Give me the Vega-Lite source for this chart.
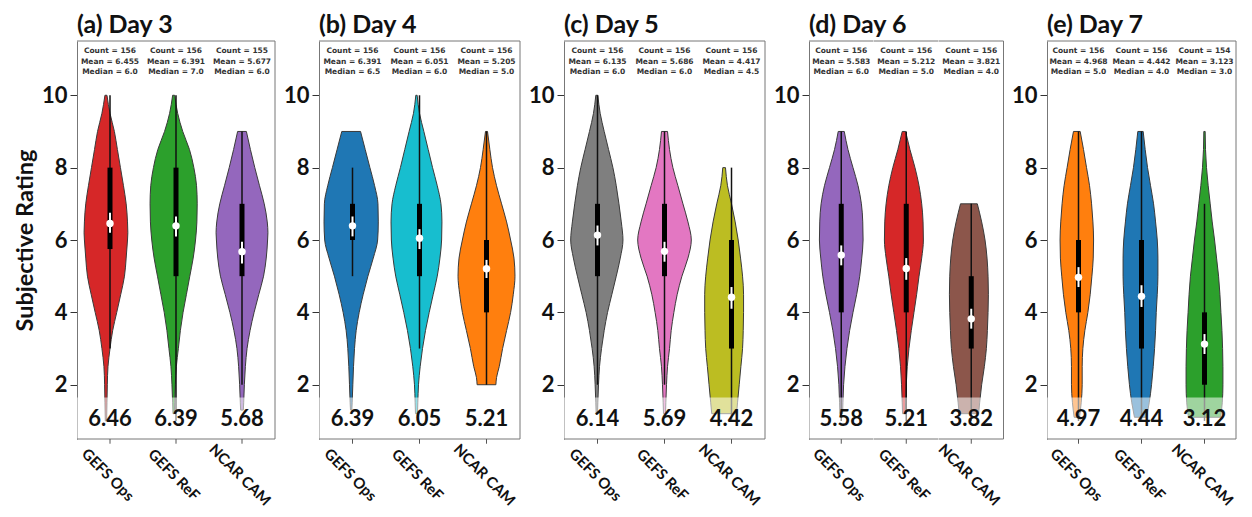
{
"$schema": "https://vega.github.io/schema/vega-lite/v6.json",
"background": "white",
"padding": {"left": 13, "top": 12, "right": 5, "bottom": 5},
"config": {
  "view": {"stroke": null},
  "font": "Lato",
  "title": {"font": "Lato", "fontSize": 25, "fontWeight": "bold", "anchor": "start", "frame": "group", "offset": 3, "color": "#111"},
  "axisY": {"labelFont": "Lato", "labelFontSize": 22, "labelFontWeight": "bold", "labelColor": "#111", "tickSize": 7, "tickColor": "#333", "domainColor": "#777", "labelPadding": 3, "grid": false, "titleFont": "Lato", "titleFontSize": 23.5, "titleFontWeight": "bold", "titleColor": "#111", "titlePadding": 4}
},
"datasets": {
"d3": [
{"t":"d","m":"GEFS Ops","r":1,"w":0.02},{"t":"d","m":"GEFS Ops","r":1.5,"w":0.03},{"t":"d","m":"GEFS Ops","r":2,"w":0.04},{"t":"d","m":"GEFS Ops","r":2.5,"w":0.06},{"t":"d","m":"GEFS Ops","r":3,"w":0.12},{"t":"d","m":"GEFS Ops","r":3.5,"w":0.2},{"t":"d","m":"GEFS Ops","r":4,"w":0.32},{"t":"d","m":"GEFS Ops","r":4.5,"w":0.44},{"t":"d","m":"GEFS Ops","r":5,"w":0.55},{"t":"d","m":"GEFS Ops","r":5.5,"w":0.6},{"t":"d","m":"GEFS Ops","r":6,"w":0.64},{"t":"d","m":"GEFS Ops","r":6.2,"w":0.65},{"t":"d","m":"GEFS Ops","r":6.5,"w":0.64},{"t":"d","m":"GEFS Ops","r":7,"w":0.6},{"t":"d","m":"GEFS Ops","r":7.5,"w":0.52},{"t":"d","m":"GEFS Ops","r":8,"w":0.43},{"t":"d","m":"GEFS Ops","r":8.5,"w":0.34},{"t":"d","m":"GEFS Ops","r":9,"w":0.25},{"t":"d","m":"GEFS Ops","r":9.5,"w":0.12},{"t":"d","m":"GEFS Ops","r":10,"w":0.03},
{"t":"d","m":"GEFS ReF","r":1.2,"w":0.02},{"t":"d","m":"GEFS ReF","r":1.5,"w":0.03},{"t":"d","m":"GEFS ReF","r":2,"w":0.05},{"t":"d","m":"GEFS ReF","r":2.5,"w":0.08},{"t":"d","m":"GEFS ReF","r":3,"w":0.14},{"t":"d","m":"GEFS ReF","r":3.5,"w":0.2},{"t":"d","m":"GEFS ReF","r":4,"w":0.28},{"t":"d","m":"GEFS ReF","r":4.5,"w":0.38},{"t":"d","m":"GEFS ReF","r":5,"w":0.48},{"t":"d","m":"GEFS ReF","r":5.5,"w":0.58},{"t":"d","m":"GEFS ReF","r":6,"w":0.65},{"t":"d","m":"GEFS ReF","r":6.5,"w":0.69},{"t":"d","m":"GEFS ReF","r":7,"w":0.7},{"t":"d","m":"GEFS ReF","r":7.5,"w":0.68},{"t":"d","m":"GEFS ReF","r":8,"w":0.6},{"t":"d","m":"GEFS ReF","r":8.5,"w":0.47},{"t":"d","m":"GEFS ReF","r":9,"w":0.27},{"t":"d","m":"GEFS ReF","r":9.5,"w":0.12},{"t":"d","m":"GEFS ReF","r":10,"w":0.03},
{"t":"d","m":"NCAR CAM","r":1.3,"w":0.04},{"t":"d","m":"NCAR CAM","r":1.5,"w":0.05},{"t":"d","m":"NCAR CAM","r":2,"w":0.07},{"t":"d","m":"NCAR CAM","r":2.5,"w":0.1},{"t":"d","m":"NCAR CAM","r":3,"w":0.15},{"t":"d","m":"NCAR CAM","r":3.5,"w":0.24},{"t":"d","m":"NCAR CAM","r":4,"w":0.36},{"t":"d","m":"NCAR CAM","r":4.5,"w":0.5},{"t":"d","m":"NCAR CAM","r":5,"w":0.64},{"t":"d","m":"NCAR CAM","r":5.5,"w":0.72},{"t":"d","m":"NCAR CAM","r":6,"w":0.76},{"t":"d","m":"NCAR CAM","r":6.2,"w":0.77},{"t":"d","m":"NCAR CAM","r":6.5,"w":0.75},{"t":"d","m":"NCAR CAM","r":7,"w":0.66},{"t":"d","m":"NCAR CAM","r":7.5,"w":0.52},{"t":"d","m":"NCAR CAM","r":8,"w":0.38},{"t":"d","m":"NCAR CAM","r":8.5,"w":0.25},{"t":"d","m":"NCAR CAM","r":9,"w":0.13},
{"t":"s","m":"GEFS Ops","count":156,"mean":6.455,"avg":6.46,"wlo":3,"whi":10,"q1":5.75,"q3":8,"cilo":6.2,"cihi":6.75,"info":["Count = 156","Mean = 6.455","Median = 6.0"]},
{"t":"s","m":"GEFS ReF","count":156,"mean":6.391,"avg":6.39,"wlo":1,"whi":10,"q1":5,"q3":8,"cilo":6.1,"cihi":6.65,"info":["Count = 156","Mean = 6.391","Median = 7.0"]},
{"t":"s","m":"NCAR CAM","count":155,"mean":5.677,"avg":5.68,"wlo":2,"whi":9,"q1":5,"q3":7,"cilo":5.35,"cihi":5.95,"info":["Count = 155","Mean = 5.677","Median = 6.0"]}
],
"d4": [
{"t":"d","m":"GEFS Ops","r":1.3,"w":0.02},{"t":"d","m":"GEFS Ops","r":1.5,"w":0.03},{"t":"d","m":"GEFS Ops","r":2,"w":0.05},{"t":"d","m":"GEFS Ops","r":2.5,"w":0.07},{"t":"d","m":"GEFS Ops","r":3,"w":0.1},{"t":"d","m":"GEFS Ops","r":3.5,"w":0.15},{"t":"d","m":"GEFS Ops","r":4,"w":0.24},{"t":"d","m":"GEFS Ops","r":4.5,"w":0.36},{"t":"d","m":"GEFS Ops","r":5,"w":0.5},{"t":"d","m":"GEFS Ops","r":5.5,"w":0.66},{"t":"d","m":"GEFS Ops","r":6,"w":0.79},{"t":"d","m":"GEFS Ops","r":6.5,"w":0.81},{"t":"d","m":"GEFS Ops","r":7,"w":0.8},{"t":"d","m":"GEFS Ops","r":7.5,"w":0.7},{"t":"d","m":"GEFS Ops","r":8,"w":0.56},{"t":"d","m":"GEFS Ops","r":8.5,"w":0.42},{"t":"d","m":"GEFS Ops","r":9,"w":0.28},
{"t":"d","m":"GEFS ReF","r":1.2,"w":0.03},{"t":"d","m":"GEFS ReF","r":1.5,"w":0.04},{"t":"d","m":"GEFS ReF","r":2,"w":0.06},{"t":"d","m":"GEFS ReF","r":2.5,"w":0.11},{"t":"d","m":"GEFS ReF","r":3,"w":0.18},{"t":"d","m":"GEFS ReF","r":3.5,"w":0.27},{"t":"d","m":"GEFS ReF","r":4,"w":0.38},{"t":"d","m":"GEFS ReF","r":4.5,"w":0.5},{"t":"d","m":"GEFS ReF","r":5,"w":0.62},{"t":"d","m":"GEFS ReF","r":5.5,"w":0.7},{"t":"d","m":"GEFS ReF","r":6,"w":0.75},{"t":"d","m":"GEFS ReF","r":6.5,"w":0.76},{"t":"d","m":"GEFS ReF","r":7,"w":0.73},{"t":"d","m":"GEFS ReF","r":7.5,"w":0.62},{"t":"d","m":"GEFS ReF","r":8,"w":0.48},{"t":"d","m":"GEFS ReF","r":8.5,"w":0.35},{"t":"d","m":"GEFS ReF","r":9,"w":0.22},{"t":"d","m":"GEFS ReF","r":9.5,"w":0.09},{"t":"d","m":"GEFS ReF","r":10,"w":0.02},
{"t":"d","m":"NCAR CAM","r":2,"w":0.28},{"t":"d","m":"NCAR CAM","r":2.2,"w":0.3},{"t":"d","m":"NCAR CAM","r":2.5,"w":0.38},{"t":"d","m":"NCAR CAM","r":3,"w":0.48},{"t":"d","m":"NCAR CAM","r":3.5,"w":0.6},{"t":"d","m":"NCAR CAM","r":4,"w":0.72},{"t":"d","m":"NCAR CAM","r":4.5,"w":0.8},{"t":"d","m":"NCAR CAM","r":5,"w":0.85},{"t":"d","m":"NCAR CAM","r":5.5,"w":0.82},{"t":"d","m":"NCAR CAM","r":6,"w":0.72},{"t":"d","m":"NCAR CAM","r":6.5,"w":0.6},{"t":"d","m":"NCAR CAM","r":7,"w":0.45},{"t":"d","m":"NCAR CAM","r":7.5,"w":0.3},{"t":"d","m":"NCAR CAM","r":8,"w":0.18},{"t":"d","m":"NCAR CAM","r":8.5,"w":0.1},{"t":"d","m":"NCAR CAM","r":9,"w":0.03},
{"t":"s","m":"GEFS Ops","count":156,"mean":6.391,"avg":6.39,"wlo":5,"whi":8,"q1":6,"q3":7,"cilo":6.1,"cihi":6.65,"info":["Count = 156","Mean = 6.391","Median = 6.5"]},
{"t":"s","m":"GEFS ReF","count":156,"mean":6.051,"avg":6.05,"wlo":3,"whi":10,"q1":5,"q3":7,"cilo":5.75,"cihi":6.3,"info":["Count = 156","Mean = 6.051","Median = 6.0"]},
{"t":"s","m":"NCAR CAM","count":156,"mean":5.205,"avg":5.21,"wlo":2,"whi":9,"q1":4,"q3":6,"cilo":4.95,"cihi":5.45,"info":["Count = 156","Mean = 5.205","Median = 5.0"]}
],
"d5": [
{"t":"d","m":"GEFS Ops","r":1.2,"w":0.02},{"t":"d","m":"GEFS Ops","r":1.5,"w":0.03},{"t":"d","m":"GEFS Ops","r":2,"w":0.05},{"t":"d","m":"GEFS Ops","r":2.5,"w":0.08},{"t":"d","m":"GEFS Ops","r":3,"w":0.14},{"t":"d","m":"GEFS Ops","r":3.5,"w":0.22},{"t":"d","m":"GEFS Ops","r":4,"w":0.32},{"t":"d","m":"GEFS Ops","r":4.5,"w":0.45},{"t":"d","m":"GEFS Ops","r":5,"w":0.58},{"t":"d","m":"GEFS Ops","r":5.5,"w":0.7},{"t":"d","m":"GEFS Ops","r":6,"w":0.78},{"t":"d","m":"GEFS Ops","r":6.5,"w":0.73},{"t":"d","m":"GEFS Ops","r":7,"w":0.66},{"t":"d","m":"GEFS Ops","r":7.5,"w":0.58},{"t":"d","m":"GEFS Ops","r":8,"w":0.48},{"t":"d","m":"GEFS Ops","r":8.5,"w":0.35},{"t":"d","m":"GEFS Ops","r":9,"w":0.22},{"t":"d","m":"GEFS Ops","r":9.5,"w":0.1},{"t":"d","m":"GEFS Ops","r":10,"w":0.03},
{"t":"d","m":"GEFS ReF","r":1.2,"w":0.03},{"t":"d","m":"GEFS ReF","r":1.5,"w":0.04},{"t":"d","m":"GEFS ReF","r":2,"w":0.06},{"t":"d","m":"GEFS ReF","r":2.5,"w":0.09},{"t":"d","m":"GEFS ReF","r":3,"w":0.15},{"t":"d","m":"GEFS ReF","r":3.5,"w":0.2},{"t":"d","m":"GEFS ReF","r":4,"w":0.28},{"t":"d","m":"GEFS ReF","r":4.5,"w":0.38},{"t":"d","m":"GEFS ReF","r":5,"w":0.52},{"t":"d","m":"GEFS ReF","r":5.5,"w":0.7},{"t":"d","m":"GEFS ReF","r":6,"w":0.8},{"t":"d","m":"GEFS ReF","r":6.5,"w":0.7},{"t":"d","m":"GEFS ReF","r":7,"w":0.55},{"t":"d","m":"GEFS ReF","r":7.5,"w":0.4},{"t":"d","m":"GEFS ReF","r":8,"w":0.25},{"t":"d","m":"GEFS ReF","r":8.5,"w":0.15},{"t":"d","m":"GEFS ReF","r":9,"w":0.09},
{"t":"d","m":"NCAR CAM","r":1.2,"w":0.37},{"t":"d","m":"NCAR CAM","r":1.5,"w":0.4},{"t":"d","m":"NCAR CAM","r":2,"w":0.45},{"t":"d","m":"NCAR CAM","r":2.5,"w":0.5},{"t":"d","m":"NCAR CAM","r":3,"w":0.55},{"t":"d","m":"NCAR CAM","r":3.5,"w":0.57},{"t":"d","m":"NCAR CAM","r":4,"w":0.58},{"t":"d","m":"NCAR CAM","r":4.5,"w":0.58},{"t":"d","m":"NCAR CAM","r":5,"w":0.55},{"t":"d","m":"NCAR CAM","r":5.5,"w":0.49},{"t":"d","m":"NCAR CAM","r":6,"w":0.42},{"t":"d","m":"NCAR CAM","r":6.5,"w":0.33},{"t":"d","m":"NCAR CAM","r":7,"w":0.22},{"t":"d","m":"NCAR CAM","r":7.5,"w":0.1},{"t":"d","m":"NCAR CAM","r":8,"w":0.04},
{"t":"s","m":"GEFS Ops","count":156,"mean":6.135,"avg":6.14,"wlo":2,"whi":10,"q1":5,"q3":7,"cilo":5.85,"cihi":6.4,"info":["Count = 156","Mean = 6.135","Median = 6.0"]},
{"t":"s","m":"GEFS ReF","count":156,"mean":5.686,"avg":5.69,"wlo":2,"whi":9,"q1":5,"q3":7,"cilo":5.4,"cihi":5.95,"info":["Count = 156","Mean = 5.686","Median = 6.0"]},
{"t":"s","m":"NCAR CAM","count":156,"mean":4.417,"avg":4.42,"wlo":1,"whi":8,"q1":3,"q3":6,"cilo":4.1,"cihi":4.7,"info":["Count = 156","Mean = 4.417","Median = 4.5"]}
],
"d6": [
{"t":"d","m":"GEFS Ops","r":1.2,"w":0.04},{"t":"d","m":"GEFS Ops","r":1.5,"w":0.05},{"t":"d","m":"GEFS Ops","r":2,"w":0.07},{"t":"d","m":"GEFS Ops","r":2.5,"w":0.11},{"t":"d","m":"GEFS Ops","r":3,"w":0.17},{"t":"d","m":"GEFS Ops","r":3.5,"w":0.25},{"t":"d","m":"GEFS Ops","r":4,"w":0.35},{"t":"d","m":"GEFS Ops","r":4.5,"w":0.46},{"t":"d","m":"GEFS Ops","r":5,"w":0.55},{"t":"d","m":"GEFS Ops","r":5.5,"w":0.61},{"t":"d","m":"GEFS Ops","r":6,"w":0.65},{"t":"d","m":"GEFS Ops","r":6.5,"w":0.64},{"t":"d","m":"GEFS Ops","r":7,"w":0.6},{"t":"d","m":"GEFS Ops","r":7.5,"w":0.5},{"t":"d","m":"GEFS Ops","r":8,"w":0.35},{"t":"d","m":"GEFS Ops","r":8.5,"w":0.2},{"t":"d","m":"GEFS Ops","r":9,"w":0.09},
{"t":"d","m":"GEFS ReF","r":1.2,"w":0.04},{"t":"d","m":"GEFS ReF","r":1.5,"w":0.05},{"t":"d","m":"GEFS ReF","r":2,"w":0.07},{"t":"d","m":"GEFS ReF","r":2.5,"w":0.1},{"t":"d","m":"GEFS ReF","r":3,"w":0.15},{"t":"d","m":"GEFS ReF","r":3.5,"w":0.22},{"t":"d","m":"GEFS ReF","r":4,"w":0.3},{"t":"d","m":"GEFS ReF","r":4.5,"w":0.38},{"t":"d","m":"GEFS ReF","r":5,"w":0.45},{"t":"d","m":"GEFS ReF","r":5.5,"w":0.53},{"t":"d","m":"GEFS ReF","r":6,"w":0.58},{"t":"d","m":"GEFS ReF","r":6.5,"w":0.57},{"t":"d","m":"GEFS ReF","r":7,"w":0.53},{"t":"d","m":"GEFS ReF","r":7.5,"w":0.45},{"t":"d","m":"GEFS ReF","r":8,"w":0.33},{"t":"d","m":"GEFS ReF","r":8.5,"w":0.18},{"t":"d","m":"GEFS ReF","r":9,"w":0.05},
{"t":"d","m":"NCAR CAM","r":1.2,"w":0.29},{"t":"d","m":"NCAR CAM","r":1.5,"w":0.32},{"t":"d","m":"NCAR CAM","r":2,"w":0.38},{"t":"d","m":"NCAR CAM","r":2.5,"w":0.46},{"t":"d","m":"NCAR CAM","r":3,"w":0.52},{"t":"d","m":"NCAR CAM","r":3.5,"w":0.55},{"t":"d","m":"NCAR CAM","r":4,"w":0.57},{"t":"d","m":"NCAR CAM","r":4.5,"w":0.58},{"t":"d","m":"NCAR CAM","r":5,"w":0.57},{"t":"d","m":"NCAR CAM","r":5.5,"w":0.54},{"t":"d","m":"NCAR CAM","r":6,"w":0.48},{"t":"d","m":"NCAR CAM","r":6.5,"w":0.38},{"t":"d","m":"NCAR CAM","r":7,"w":0.25},
{"t":"s","m":"GEFS Ops","count":156,"mean":5.583,"avg":5.58,"wlo":1,"whi":9,"q1":4,"q3":7,"cilo":5.3,"cihi":5.85,"info":["Count = 156","Mean = 5.583","Median = 6.0"]},
{"t":"s","m":"GEFS ReF","count":156,"mean":5.212,"avg":5.21,"wlo":1,"whi":9,"q1":4,"q3":7,"cilo":4.9,"cihi":5.5,"info":["Count = 156","Mean = 5.212","Median = 5.0"]},
{"t":"s","m":"NCAR CAM","count":156,"mean":3.821,"avg":3.82,"wlo":1,"whi":7,"q1":3,"q3":5,"cilo":3.55,"cihi":4.1,"info":["Count = 156","Mean = 3.821","Median = 4.0"]}
],
"d7": [
{"t":"d","m":"GEFS Ops","r":1.1,"w":0.08},{"t":"d","m":"GEFS Ops","r":1.5,"w":0.13},{"t":"d","m":"GEFS Ops","r":2,"w":0.16},{"t":"d","m":"GEFS Ops","r":2.5,"w":0.16},{"t":"d","m":"GEFS Ops","r":3,"w":0.18},{"t":"d","m":"GEFS Ops","r":3.5,"w":0.24},{"t":"d","m":"GEFS Ops","r":4,"w":0.33},{"t":"d","m":"GEFS Ops","r":4.5,"w":0.4},{"t":"d","m":"GEFS Ops","r":5,"w":0.45},{"t":"d","m":"GEFS Ops","r":5.5,"w":0.49},{"t":"d","m":"GEFS Ops","r":6,"w":0.5},{"t":"d","m":"GEFS Ops","r":6.5,"w":0.48},{"t":"d","m":"GEFS Ops","r":7,"w":0.44},{"t":"d","m":"GEFS Ops","r":7.5,"w":0.38},{"t":"d","m":"GEFS Ops","r":8,"w":0.29},{"t":"d","m":"GEFS Ops","r":8.5,"w":0.2},{"t":"d","m":"GEFS Ops","r":9,"w":0.1},
{"t":"d","m":"GEFS ReF","r":1.1,"w":0.18},{"t":"d","m":"GEFS ReF","r":1.5,"w":0.26},{"t":"d","m":"GEFS ReF","r":2,"w":0.33},{"t":"d","m":"GEFS ReF","r":2.5,"w":0.38},{"t":"d","m":"GEFS ReF","r":3,"w":0.42},{"t":"d","m":"GEFS ReF","r":3.5,"w":0.45},{"t":"d","m":"GEFS ReF","r":4,"w":0.47},{"t":"d","m":"GEFS ReF","r":4.5,"w":0.5},{"t":"d","m":"GEFS ReF","r":5,"w":0.52},{"t":"d","m":"GEFS ReF","r":5.5,"w":0.52},{"t":"d","m":"GEFS ReF","r":6,"w":0.5},{"t":"d","m":"GEFS ReF","r":6.5,"w":0.45},{"t":"d","m":"GEFS ReF","r":7,"w":0.39},{"t":"d","m":"GEFS ReF","r":7.5,"w":0.3},{"t":"d","m":"GEFS ReF","r":8,"w":0.21},{"t":"d","m":"GEFS ReF","r":8.5,"w":0.14},{"t":"d","m":"GEFS ReF","r":9,"w":0.08},
{"t":"d","m":"NCAR CAM","r":1.1,"w":0.48},{"t":"d","m":"NCAR CAM","r":1.5,"w":0.53},{"t":"d","m":"NCAR CAM","r":2,"w":0.55},{"t":"d","m":"NCAR CAM","r":2.5,"w":0.55},{"t":"d","m":"NCAR CAM","r":3,"w":0.54},{"t":"d","m":"NCAR CAM","r":3.5,"w":0.52},{"t":"d","m":"NCAR CAM","r":4,"w":0.49},{"t":"d","m":"NCAR CAM","r":4.5,"w":0.46},{"t":"d","m":"NCAR CAM","r":5,"w":0.42},{"t":"d","m":"NCAR CAM","r":5.5,"w":0.36},{"t":"d","m":"NCAR CAM","r":6,"w":0.3},{"t":"d","m":"NCAR CAM","r":6.5,"w":0.23},{"t":"d","m":"NCAR CAM","r":7,"w":0.17},{"t":"d","m":"NCAR CAM","r":7.5,"w":0.11},{"t":"d","m":"NCAR CAM","r":8,"w":0.06},{"t":"d","m":"NCAR CAM","r":8.5,"w":0.03},{"t":"d","m":"NCAR CAM","r":9,"w":0.02},
{"t":"s","m":"GEFS Ops","count":156,"mean":4.968,"avg":4.97,"wlo":1,"whi":9,"q1":4,"q3":6,"cilo":4.7,"cihi":5.25,"info":["Count = 156","Mean = 4.968","Median = 5.0"]},
{"t":"s","m":"GEFS ReF","count":156,"mean":4.442,"avg":4.44,"wlo":1,"whi":9,"q1":3,"q3":6,"cilo":4.15,"cihi":4.75,"info":["Count = 156","Mean = 4.442","Median = 4.0"]},
{"t":"s","m":"NCAR CAM","count":154,"mean":3.123,"avg":3.12,"wlo":1,"whi":7,"q1":2,"q3":4,"cilo":2.85,"cihi":3.4,"info":["Count = 154","Mean = 3.123","Median = 3.0"]}
]
},
"resolve": {"scale": {"color": "independent", "x": "independent", "y": "independent"}},
"spacing": 7,
"hconcat": [
{
 "data": {"name": "d3"}, "title": "(a) Day 3", "spacing": 0, "bounds": "flush",
 "facet": {"column": {"field": "m", "type": "nominal", "sort": ["GEFS Ops","GEFS ReF","NCAR CAM"], "header": {"labels": false, "title": null, "labelPadding": 0, "titlePadding": 0}}},
 "spec": {"width": 66, "height": 398, "layer": [
  {"transform": [{"filter": "datum.t == 'd'"}], "mark": {"type": "area", "orient": "horizontal", "interpolate": "monotone", "stroke": "#3a3a3a", "strokeWidth": 1},
   "encoding": {"y": {"field": "r", "type": "quantitative", "scale": {"domain": [0.5, 11.5], "nice": false, "zero": false}, "axis": {"values": [2,4,6,8,10], "title": "Subjective Rating"}},
    "x": {"field": "w", "type": "quantitative", "stack": "center", "impute": null, "scale": {"domain": [-0.105, 0.875], "nice": false, "zero": false}, "axis": null},
    "color": {"field": "m", "type": "nominal", "legend": null, "scale": {"domain": ["GEFS Ops","GEFS ReF","NCAR CAM"], "range": ["#d62728","#2ca02c","#9467bd"]}}}},
  {"transform": [{"filter": "datum.t == 's'"}], "mark": {"type": "rule", "color": "#111", "strokeWidth": 1.5}, "encoding": {"x": {"datum": 0.385}, "y": {"field": "wlo", "type": "quantitative"}, "y2": {"field": "whi"}}},
  {"transform": [{"filter": "datum.t == 's'"}], "mark": {"type": "rule", "color": "#000", "strokeWidth": 5}, "encoding": {"x": {"datum": 0.385}, "y": {"field": "q1", "type": "quantitative"}, "y2": {"field": "q3"}}},
  {"transform": [{"filter": "datum.t == 's'"}], "mark": {"type": "rule", "color": "white", "strokeWidth": 2}, "encoding": {"x": {"datum": 0.385}, "y": {"field": "cilo", "type": "quantitative"}, "y2": {"field": "cihi"}}},
  {"transform": [{"filter": "datum.t == 's'"}], "mark": {"type": "point", "filled": true, "color": "white", "size": 55, "opacity": 1}, "encoding": {"x": {"datum": 0.385}, "y": {"field": "mean", "type": "quantitative"}}},
  {"transform": [{"filter": "datum.t == 's'"}], "mark": {"type": "rect", "color": "white", "opacity": 0.55}, "encoding": {"x": {"datum": -0.105}, "x2": {"datum": 0.875}, "y": {"datum": 0.5}, "y2": {"datum": 1.65}}},
  {"transform": [{"filter": "datum.t == 's'"}], "mark": {"type": "text", "font": "Lato", "fontSize": 22, "fontWeight": "bold", "color": "#111", "baseline": "middle"}, "encoding": {"x": {"datum": 0.385}, "y": {"datum": 1.06}, "text": {"field": "avg", "type": "quantitative", "format": ".2f"}}},
  {"transform": [{"filter": "datum.t == 's'"}], "mark": {"type": "text", "font": "DejaVu Sans", "fontSize": 7.5, "fontWeight": "bold", "color": "#333", "baseline": "top", "lineHeight": 10.5}, "encoding": {"x": {"datum": 0.385}, "y": {"datum": 11.33}, "text": {"field": "info", "type": "nominal"}}},
  {"transform": [{"filter": "datum.t == 's'"}], "mark": {"type": "rule", "color": "#777", "strokeWidth": 1}, "encoding": {"y": {"datum": 11.5}}},
  {"transform": [{"filter": "datum.t == 's'"}], "mark": {"type": "rule", "color": "#777", "strokeWidth": 1}, "encoding": {"y": {"datum": 0.5}}},
  {"transform": [{"filter": "datum.t == 's'"}], "mark": {"type": "rule", "color": "#555", "strokeWidth": 1}, "encoding": {"x": {"datum": 0.385}, "y": {"datum": 0.5}, "y2": {"datum": 0.37}}},
  {"transform": [{"filter": "datum.t == 's' && datum.m == 'NCAR CAM'"}], "mark": {"type": "rule", "color": "#777", "strokeWidth": 1}, "encoding": {"x": {"datum": 0.875}}},
  {"transform": [{"filter": "datum.t == 's'"}], "mark": {"type": "text", "font": "Lato", "fontSize": 15, "fontWeight": "bold", "color": "#111", "angle": 45, "align": "center", "baseline": "middle", "dx": -3}, "encoding": {"x": {"datum": 0.385}, "y": {"datum": -0.55}, "text": {"field": "m", "type": "nominal"}}}
 ]}
},
{
 "data": {"name": "d4"}, "title": "(b) Day 4", "spacing": 0, "bounds": "flush",
 "facet": {"column": {"field": "m", "type": "nominal", "sort": ["GEFS Ops","GEFS ReF","NCAR CAM"], "header": {"labels": false, "title": null, "labelPadding": 0, "titlePadding": 0}}},
 "spec": {"width": 67, "height": 398, "layer": [
  {"transform": [{"filter": "datum.t == 'd'"}], "mark": {"type": "area", "orient": "horizontal", "interpolate": "monotone", "stroke": "#3a3a3a", "strokeWidth": 1},
   "encoding": {"y": {"field": "r", "type": "quantitative", "scale": {"domain": [0.5, 11.5], "nice": false, "zero": false}, "axis": {"values": [2,4,6,8,10], "title": null}},
    "x": {"field": "w", "type": "quantitative", "stack": "center", "impute": null, "scale": {"domain": [-0.075, 0.925], "nice": false, "zero": false}, "axis": null},
    "color": {"field": "m", "type": "nominal", "legend": null, "scale": {"domain": ["GEFS Ops","GEFS ReF","NCAR CAM"], "range": ["#1f77b4","#17becf","#ff7f0e"]}}}},
  {"transform": [{"filter": "datum.t == 's'"}], "mark": {"type": "rule", "color": "#111", "strokeWidth": 1.5}, "encoding": {"x": {"datum": 0.425}, "y": {"field": "wlo", "type": "quantitative"}, "y2": {"field": "whi"}}},
  {"transform": [{"filter": "datum.t == 's'"}], "mark": {"type": "rule", "color": "#000", "strokeWidth": 5}, "encoding": {"x": {"datum": 0.425}, "y": {"field": "q1", "type": "quantitative"}, "y2": {"field": "q3"}}},
  {"transform": [{"filter": "datum.t == 's'"}], "mark": {"type": "rule", "color": "white", "strokeWidth": 2}, "encoding": {"x": {"datum": 0.425}, "y": {"field": "cilo", "type": "quantitative"}, "y2": {"field": "cihi"}}},
  {"transform": [{"filter": "datum.t == 's'"}], "mark": {"type": "point", "filled": true, "color": "white", "size": 55, "opacity": 1}, "encoding": {"x": {"datum": 0.425}, "y": {"field": "mean", "type": "quantitative"}}},
  {"transform": [{"filter": "datum.t == 's'"}], "mark": {"type": "rect", "color": "white", "opacity": 0.55}, "encoding": {"x": {"datum": -0.075}, "x2": {"datum": 0.925}, "y": {"datum": 0.5}, "y2": {"datum": 1.65}}},
  {"transform": [{"filter": "datum.t == 's'"}], "mark": {"type": "text", "font": "Lato", "fontSize": 22, "fontWeight": "bold", "color": "#111", "baseline": "middle"}, "encoding": {"x": {"datum": 0.425}, "y": {"datum": 1.06}, "text": {"field": "avg", "type": "quantitative", "format": ".2f"}}},
  {"transform": [{"filter": "datum.t == 's'"}], "mark": {"type": "text", "font": "DejaVu Sans", "fontSize": 7.5, "fontWeight": "bold", "color": "#333", "baseline": "top", "lineHeight": 10.5}, "encoding": {"x": {"datum": 0.425}, "y": {"datum": 11.33}, "text": {"field": "info", "type": "nominal"}}},
  {"transform": [{"filter": "datum.t == 's'"}], "mark": {"type": "rule", "color": "#777", "strokeWidth": 1}, "encoding": {"y": {"datum": 11.5}}},
  {"transform": [{"filter": "datum.t == 's'"}], "mark": {"type": "rule", "color": "#777", "strokeWidth": 1}, "encoding": {"y": {"datum": 0.5}}},
  {"transform": [{"filter": "datum.t == 's'"}], "mark": {"type": "rule", "color": "#555", "strokeWidth": 1}, "encoding": {"x": {"datum": 0.425}, "y": {"datum": 0.5}, "y2": {"datum": 0.37}}},
  {"transform": [{"filter": "datum.t == 's' && datum.m == 'NCAR CAM'"}], "mark": {"type": "rule", "color": "#777", "strokeWidth": 1}, "encoding": {"x": {"datum": 0.925}}},
  {"transform": [{"filter": "datum.t == 's'"}], "mark": {"type": "text", "font": "Lato", "fontSize": 15, "fontWeight": "bold", "color": "#111", "angle": 45, "align": "center", "baseline": "middle", "dx": -3}, "encoding": {"x": {"datum": 0.425}, "y": {"datum": -0.55}, "text": {"field": "m", "type": "nominal"}}}
 ]}
},
{
 "data": {"name": "d5"}, "title": "(c) Day 5", "spacing": 0, "bounds": "flush",
 "facet": {"column": {"field": "m", "type": "nominal", "sort": ["GEFS Ops","GEFS ReF","NCAR CAM"], "header": {"labels": false, "title": null, "labelPadding": 0, "titlePadding": 0}}},
 "spec": {"width": 67, "height": 398, "layer": [
  {"transform": [{"filter": "datum.t == 'd'"}], "mark": {"type": "area", "orient": "horizontal", "interpolate": "monotone", "stroke": "#3a3a3a", "strokeWidth": 1},
   "encoding": {"y": {"field": "r", "type": "quantitative", "scale": {"domain": [0.5, 11.5], "nice": false, "zero": false}, "axis": {"values": [2,4,6,8,10], "title": null}},
    "x": {"field": "w", "type": "quantitative", "stack": "center", "impute": null, "scale": {"domain": [-0.1, 0.9], "nice": false, "zero": false}, "axis": null},
    "color": {"field": "m", "type": "nominal", "legend": null, "scale": {"domain": ["GEFS Ops","GEFS ReF","NCAR CAM"], "range": ["#7f7f7f","#e377c2","#bcbd22"]}}}},
  {"transform": [{"filter": "datum.t == 's'"}], "mark": {"type": "rule", "color": "#111", "strokeWidth": 1.5}, "encoding": {"x": {"datum": 0.4}, "y": {"field": "wlo", "type": "quantitative"}, "y2": {"field": "whi"}}},
  {"transform": [{"filter": "datum.t == 's'"}], "mark": {"type": "rule", "color": "#000", "strokeWidth": 5}, "encoding": {"x": {"datum": 0.4}, "y": {"field": "q1", "type": "quantitative"}, "y2": {"field": "q3"}}},
  {"transform": [{"filter": "datum.t == 's'"}], "mark": {"type": "rule", "color": "white", "strokeWidth": 2}, "encoding": {"x": {"datum": 0.4}, "y": {"field": "cilo", "type": "quantitative"}, "y2": {"field": "cihi"}}},
  {"transform": [{"filter": "datum.t == 's'"}], "mark": {"type": "point", "filled": true, "color": "white", "size": 55, "opacity": 1}, "encoding": {"x": {"datum": 0.4}, "y": {"field": "mean", "type": "quantitative"}}},
  {"transform": [{"filter": "datum.t == 's'"}], "mark": {"type": "rect", "color": "white", "opacity": 0.55}, "encoding": {"x": {"datum": -0.1}, "x2": {"datum": 0.9}, "y": {"datum": 0.5}, "y2": {"datum": 1.65}}},
  {"transform": [{"filter": "datum.t == 's'"}], "mark": {"type": "text", "font": "Lato", "fontSize": 22, "fontWeight": "bold", "color": "#111", "baseline": "middle"}, "encoding": {"x": {"datum": 0.4}, "y": {"datum": 1.06}, "text": {"field": "avg", "type": "quantitative", "format": ".2f"}}},
  {"transform": [{"filter": "datum.t == 's'"}], "mark": {"type": "text", "font": "DejaVu Sans", "fontSize": 7.5, "fontWeight": "bold", "color": "#333", "baseline": "top", "lineHeight": 10.5}, "encoding": {"x": {"datum": 0.4}, "y": {"datum": 11.33}, "text": {"field": "info", "type": "nominal"}}},
  {"transform": [{"filter": "datum.t == 's'"}], "mark": {"type": "rule", "color": "#777", "strokeWidth": 1}, "encoding": {"y": {"datum": 11.5}}},
  {"transform": [{"filter": "datum.t == 's'"}], "mark": {"type": "rule", "color": "#777", "strokeWidth": 1}, "encoding": {"y": {"datum": 0.5}}},
  {"transform": [{"filter": "datum.t == 's'"}], "mark": {"type": "rule", "color": "#555", "strokeWidth": 1}, "encoding": {"x": {"datum": 0.4}, "y": {"datum": 0.5}, "y2": {"datum": 0.37}}},
  {"transform": [{"filter": "datum.t == 's' && datum.m == 'NCAR CAM'"}], "mark": {"type": "rule", "color": "#777", "strokeWidth": 1}, "encoding": {"x": {"datum": 0.9}}},
  {"transform": [{"filter": "datum.t == 's'"}], "mark": {"type": "text", "font": "Lato", "fontSize": 15, "fontWeight": "bold", "color": "#111", "angle": 45, "align": "center", "baseline": "middle", "dx": -3}, "encoding": {"x": {"datum": 0.4}, "y": {"datum": -0.55}, "text": {"field": "m", "type": "nominal"}}}
 ]}
},
{
 "data": {"name": "d6"}, "title": "(d) Day 6", "spacing": 0, "bounds": "flush",
 "facet": {"column": {"field": "m", "type": "nominal", "sort": ["GEFS Ops","GEFS ReF","NCAR CAM"], "header": {"labels": false, "title": null, "labelPadding": 0, "titlePadding": 0}}},
 "spec": {"width": 64.5, "height": 398, "layer": [
  {"transform": [{"filter": "datum.t == 'd'"}], "mark": {"type": "area", "orient": "horizontal", "interpolate": "monotone", "stroke": "#3a3a3a", "strokeWidth": 1},
   "encoding": {"y": {"field": "r", "type": "quantitative", "scale": {"domain": [0.5, 11.5], "nice": false, "zero": false}, "axis": {"values": [2,4,6,8,10], "title": null}},
    "x": {"field": "w", "type": "quantitative", "stack": "center", "impute": null, "scale": {"domain": [-0.155, 0.805], "nice": false, "zero": false}, "axis": null},
    "color": {"field": "m", "type": "nominal", "legend": null, "scale": {"domain": ["GEFS Ops","GEFS ReF","NCAR CAM"], "range": ["#9467bd","#d62728","#8c564b"]}}}},
  {"transform": [{"filter": "datum.t == 's'"}], "mark": {"type": "rule", "color": "#111", "strokeWidth": 1.5}, "encoding": {"x": {"datum": 0.325}, "y": {"field": "wlo", "type": "quantitative"}, "y2": {"field": "whi"}}},
  {"transform": [{"filter": "datum.t == 's'"}], "mark": {"type": "rule", "color": "#000", "strokeWidth": 5}, "encoding": {"x": {"datum": 0.325}, "y": {"field": "q1", "type": "quantitative"}, "y2": {"field": "q3"}}},
  {"transform": [{"filter": "datum.t == 's'"}], "mark": {"type": "rule", "color": "white", "strokeWidth": 2}, "encoding": {"x": {"datum": 0.325}, "y": {"field": "cilo", "type": "quantitative"}, "y2": {"field": "cihi"}}},
  {"transform": [{"filter": "datum.t == 's'"}], "mark": {"type": "point", "filled": true, "color": "white", "size": 55, "opacity": 1}, "encoding": {"x": {"datum": 0.325}, "y": {"field": "mean", "type": "quantitative"}}},
  {"transform": [{"filter": "datum.t == 's'"}], "mark": {"type": "rect", "color": "white", "opacity": 0.55}, "encoding": {"x": {"datum": -0.155}, "x2": {"datum": 0.805}, "y": {"datum": 0.5}, "y2": {"datum": 1.65}}},
  {"transform": [{"filter": "datum.t == 's'"}], "mark": {"type": "text", "font": "Lato", "fontSize": 22, "fontWeight": "bold", "color": "#111", "baseline": "middle"}, "encoding": {"x": {"datum": 0.325}, "y": {"datum": 1.06}, "text": {"field": "avg", "type": "quantitative", "format": ".2f"}}},
  {"transform": [{"filter": "datum.t == 's'"}], "mark": {"type": "text", "font": "DejaVu Sans", "fontSize": 7.5, "fontWeight": "bold", "color": "#333", "baseline": "top", "lineHeight": 10.5}, "encoding": {"x": {"datum": 0.325}, "y": {"datum": 11.33}, "text": {"field": "info", "type": "nominal"}}},
  {"transform": [{"filter": "datum.t == 's'"}], "mark": {"type": "rule", "color": "#777", "strokeWidth": 1}, "encoding": {"y": {"datum": 11.5}}},
  {"transform": [{"filter": "datum.t == 's'"}], "mark": {"type": "rule", "color": "#777", "strokeWidth": 1}, "encoding": {"y": {"datum": 0.5}}},
  {"transform": [{"filter": "datum.t == 's'"}], "mark": {"type": "rule", "color": "#555", "strokeWidth": 1}, "encoding": {"x": {"datum": 0.325}, "y": {"datum": 0.5}, "y2": {"datum": 0.37}}},
  {"transform": [{"filter": "datum.t == 's' && datum.m == 'NCAR CAM'"}], "mark": {"type": "rule", "color": "#777", "strokeWidth": 1}, "encoding": {"x": {"datum": 0.805}}},
  {"transform": [{"filter": "datum.t == 's'"}], "mark": {"type": "text", "font": "Lato", "fontSize": 15, "fontWeight": "bold", "color": "#111", "angle": 45, "align": "center", "baseline": "middle", "dx": -3}, "encoding": {"x": {"datum": 0.325}, "y": {"datum": -0.55}, "text": {"field": "m", "type": "nominal"}}}
 ]}
},
{
 "data": {"name": "d7"}, "title": "(e) Day 7", "spacing": 0, "bounds": "flush",
 "facet": {"column": {"field": "m", "type": "nominal", "sort": ["GEFS Ops","GEFS ReF","NCAR CAM"], "header": {"labels": false, "title": null, "labelPadding": 0, "titlePadding": 0}}},
 "spec": {"width": 63, "height": 398, "layer": [
  {"transform": [{"filter": "datum.t == 'd'"}], "mark": {"type": "area", "orient": "horizontal", "interpolate": "monotone", "stroke": "#3a3a3a", "strokeWidth": 1},
   "encoding": {"y": {"field": "r", "type": "quantitative", "scale": {"domain": [0.5, 11.5], "nice": false, "zero": false}, "axis": {"values": [2,4,6,8,10], "title": null}},
    "x": {"field": "w", "type": "quantitative", "stack": "center", "impute": null, "scale": {"domain": [-0.195, 0.745], "nice": false, "zero": false}, "axis": null},
    "color": {"field": "m", "type": "nominal", "legend": null, "scale": {"domain": ["GEFS Ops","GEFS ReF","NCAR CAM"], "range": ["#ff7f0e","#1f77b4","#2ca02c"]}}}},
  {"transform": [{"filter": "datum.t == 's'"}], "mark": {"type": "rule", "color": "#111", "strokeWidth": 1.5}, "encoding": {"x": {"datum": 0.275}, "y": {"field": "wlo", "type": "quantitative"}, "y2": {"field": "whi"}}},
  {"transform": [{"filter": "datum.t == 's'"}], "mark": {"type": "rule", "color": "#000", "strokeWidth": 5}, "encoding": {"x": {"datum": 0.275}, "y": {"field": "q1", "type": "quantitative"}, "y2": {"field": "q3"}}},
  {"transform": [{"filter": "datum.t == 's'"}], "mark": {"type": "rule", "color": "white", "strokeWidth": 2}, "encoding": {"x": {"datum": 0.275}, "y": {"field": "cilo", "type": "quantitative"}, "y2": {"field": "cihi"}}},
  {"transform": [{"filter": "datum.t == 's'"}], "mark": {"type": "point", "filled": true, "color": "white", "size": 55, "opacity": 1}, "encoding": {"x": {"datum": 0.275}, "y": {"field": "mean", "type": "quantitative"}}},
  {"transform": [{"filter": "datum.t == 's'"}], "mark": {"type": "rect", "color": "white", "opacity": 0.55}, "encoding": {"x": {"datum": -0.195}, "x2": {"datum": 0.745}, "y": {"datum": 0.5}, "y2": {"datum": 1.65}}},
  {"transform": [{"filter": "datum.t == 's'"}], "mark": {"type": "text", "font": "Lato", "fontSize": 22, "fontWeight": "bold", "color": "#111", "baseline": "middle"}, "encoding": {"x": {"datum": 0.275}, "y": {"datum": 1.06}, "text": {"field": "avg", "type": "quantitative", "format": ".2f"}}},
  {"transform": [{"filter": "datum.t == 's'"}], "mark": {"type": "text", "font": "DejaVu Sans", "fontSize": 7.5, "fontWeight": "bold", "color": "#333", "baseline": "top", "lineHeight": 10.5}, "encoding": {"x": {"datum": 0.275}, "y": {"datum": 11.33}, "text": {"field": "info", "type": "nominal"}}},
  {"transform": [{"filter": "datum.t == 's'"}], "mark": {"type": "rule", "color": "#777", "strokeWidth": 1}, "encoding": {"y": {"datum": 11.5}}},
  {"transform": [{"filter": "datum.t == 's'"}], "mark": {"type": "rule", "color": "#777", "strokeWidth": 1}, "encoding": {"y": {"datum": 0.5}}},
  {"transform": [{"filter": "datum.t == 's'"}], "mark": {"type": "rule", "color": "#555", "strokeWidth": 1}, "encoding": {"x": {"datum": 0.275}, "y": {"datum": 0.5}, "y2": {"datum": 0.37}}},
  {"transform": [{"filter": "datum.t == 's' && datum.m == 'NCAR CAM'"}], "mark": {"type": "rule", "color": "#777", "strokeWidth": 1}, "encoding": {"x": {"datum": 0.745}}},
  {"transform": [{"filter": "datum.t == 's'"}], "mark": {"type": "text", "font": "Lato", "fontSize": 15, "fontWeight": "bold", "color": "#111", "angle": 45, "align": "center", "baseline": "middle", "dx": -3}, "encoding": {"x": {"datum": 0.275}, "y": {"datum": -0.55}, "text": {"field": "m", "type": "nominal"}}}
 ]}
}
]
}
